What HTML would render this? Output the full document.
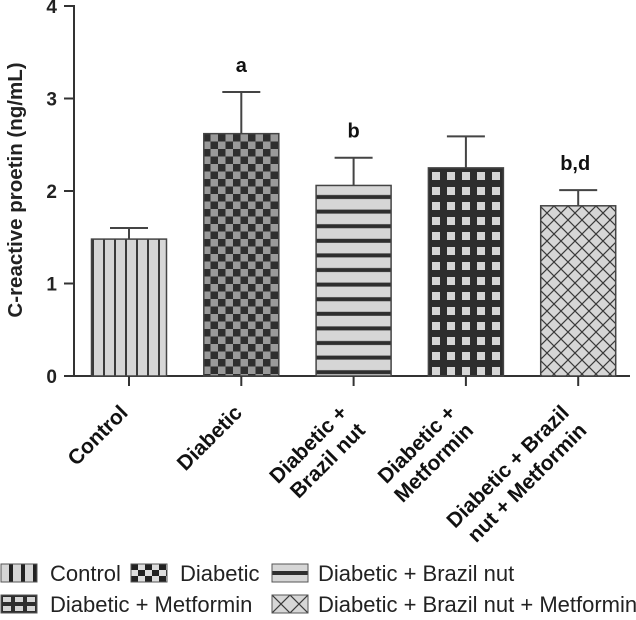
<!DOCTYPE html>
<html><head><meta charset="utf-8"><style>
body{margin:0;background:#fff;width:636px;height:615px;overflow:hidden}
svg{font-family:"Liberation Sans",Arial,sans-serif}
</style></head><body>
<svg id="chart" width="636" height="615">
<defs>
<pattern id="p0" width="11" height="10" patternUnits="userSpaceOnUse" x="92"><rect width="11" height="10" fill="#d6d6d6"/><rect x="0" width="2" height="10" fill="#3a3a3a"/></pattern>
<pattern id="p1" width="15" height="15" patternUnits="userSpaceOnUse" x="203" y="134"><rect width="15" height="15" fill="#999"/><rect width="7.5" height="7.5" fill="#2e2e2e"/><rect x="7.5" y="7.5" width="7.5" height="7.5" fill="#2e2e2e"/></pattern>
<pattern id="p2" width="10" height="14.6" patternUnits="userSpaceOnUse" y="185"><rect width="10" height="14.6" fill="#d6d6d6"/><rect y="10" width="10" height="4" fill="#2e2e2e"/></pattern>
<pattern id="p3" width="15" height="15" patternUnits="userSpaceOnUse" x="428" y="168"><rect width="15" height="15" fill="#2e2e2e"/><rect x="4" y="4" width="8" height="8" fill="#d6d6d6"/></pattern>
<pattern id="p4" width="14" height="14" patternUnits="userSpaceOnUse" x="540" y="206"><rect width="14" height="14" fill="#d6d6d6"/><path d="M0 0L14 14M14 0L0 14" stroke="#3a3a3a" stroke-width="1.2"/></pattern>
<pattern id="l0" width="12" height="18" patternUnits="userSpaceOnUse" x="1"><rect width="12" height="18" fill="#d6d6d6"/><rect x="8" width="4" height="18" fill="#222"/></pattern>
<pattern id="l1" width="14" height="12" patternUnits="userSpaceOnUse" x="131" y="564"><rect width="14" height="12" fill="#ddd"/><rect width="7" height="6" fill="#222"/><rect x="7" y="6" width="7" height="6" fill="#222"/></pattern>
<pattern id="l2" width="40" height="18" patternUnits="userSpaceOnUse" y="564"><rect width="40" height="18" fill="#d6d6d6"/><rect y="7" width="40" height="4" fill="#2e2e2e"/></pattern>
<pattern id="l3" width="12" height="18" patternUnits="userSpaceOnUse" x="1" y="595"><rect width="12" height="18" fill="#2e2e2e"/><rect x="2" y="2" width="8" height="5" fill="#d6d6d6"/><rect x="2" y="11" width="8" height="5" fill="#d6d6d6"/></pattern>
<pattern id="l4" width="18" height="18" patternUnits="userSpaceOnUse" x="272" y="595"><rect width="18" height="18" fill="#d6d6d6"/><path d="M0 0L18 18M18 0L0 18" stroke="#3a3a3a" stroke-width="1.2"/></pattern>
</defs>
</svg>
<script>
const categories=["Control","Diabetic","Diabetic + Brazil nut","Diabetic + Metformin","Diabetic + Brazil nut + Metformin"];
const xLabels=[["Control"],["Diabetic"],["Diabetic +","Brazil nut"],["Diabetic +","Metformin"],["Diabetic + Brazil","nut + Metformin"]];
const means=[1.48,2.62,2.06,2.25,1.84];
const errors=[0.12,0.45,0.30,0.34,0.17];
const sigLabels=["","a","b","","b,d"];
const yTicks=[0,1,2,3,4];
const ns="http://www.w3.org/2000/svg";
const svg=document.getElementById("chart");
const y0=376,unit=92.5,xl=74;
const lblDx=[0,2,-5,-9,-8];
function y(v){return y0-v*unit;}
function xc(i){return 129+i*112.3;}
function mk(t,a,p){const e=document.createElementNS(ns,t);for(const k in a)e.setAttribute(k,a[k]);(p||svg).appendChild(e);return e;}
let ax=mk("line",{x1:xl,y1:y(4)-1,x2:xl,y2:y0+1,stroke:"#333","stroke-width":2});


let xa=mk("line",{x1:xl-1,y1:y0,x2:630,y2:y0,stroke:"#333","stroke-width":2});


yTicks.forEach(v=>{
  mk("line",{x1:xl-10,y1:y(v),x2:xl,y2:y(v),stroke:"#333","stroke-width":2});
  const t=mk("text",{x:57,y:y(v)+7,"text-anchor":"end","font-size":19,"font-weight":"bold",fill:"#222"});
  t.textContent=v;
  
  
});
const yt=mk("text",{transform:"translate(22,190) rotate(-90)","text-anchor":"middle","font-size":20.5,"font-weight":"bold",fill:"#222"});
yt.textContent="C-reactive proetin (ng/mL)";


categories.forEach((c,i)=>{
  const cx=xc(i),w=75;
  const b=mk("rect",{x:cx-w/2,y:y(means[i]),width:w,height:y0-y(means[i]),fill:"url(#p"+i+")",stroke:"#444","stroke-width":1.5});
  
  
  const top=y(means[i]+errors[i]);
  const eb=mk("path",{d:`M${cx} ${y(means[i])}V${top}M${cx-19} ${top}H${cx+19}`,stroke:"#444","stroke-width":2,fill:"none"});
  
  
  mk("line",{x1:cx,y1:y0,x2:cx,y2:y0+10,stroke:"#333","stroke-width":2});
  if(sigLabels[i]){
    const s=mk("text",{x:cx-(i==4?3:0),y:top-20,"text-anchor":"middle","font-size":20,"font-weight":"bold",fill:"#111"});
    s.textContent=sigLabels[i];
    
    
  }
  const g=mk("g",{transform:`translate(${cx+lblDx[i]},${y0+38}) rotate(-45)`});
  
  
  xLabels[i].forEach((l,j)=>{const s=mk("text",{x:0,y:j*25,"font-size":21,"font-weight":"bold",fill:"#111","text-anchor":"end"},g);s.textContent=l;});
});
const leg=[[0,0,0,"Control"],[1,130,0,"Diabetic"],[2,271,0,"Diabetic + Brazil nut"],[3,0,31,"Diabetic + Metformin"],[4,271,31,"Diabetic + Brazil nut + Metformin"]];
leg.forEach(([i,lx,ly,txt])=>{
  const r=mk("rect",{x:lx+1,y:564+ly,width:36,height:18,fill:"url(#l"+i+")",stroke:"#555","stroke-width":1});
  
  
  const t=mk("text",{x:lx+(i==2||i==4?47:50),y:581+ly,"font-size":22,fill:"#222"});
  t.textContent=txt;
  
  
});
</script>
</body></html>
